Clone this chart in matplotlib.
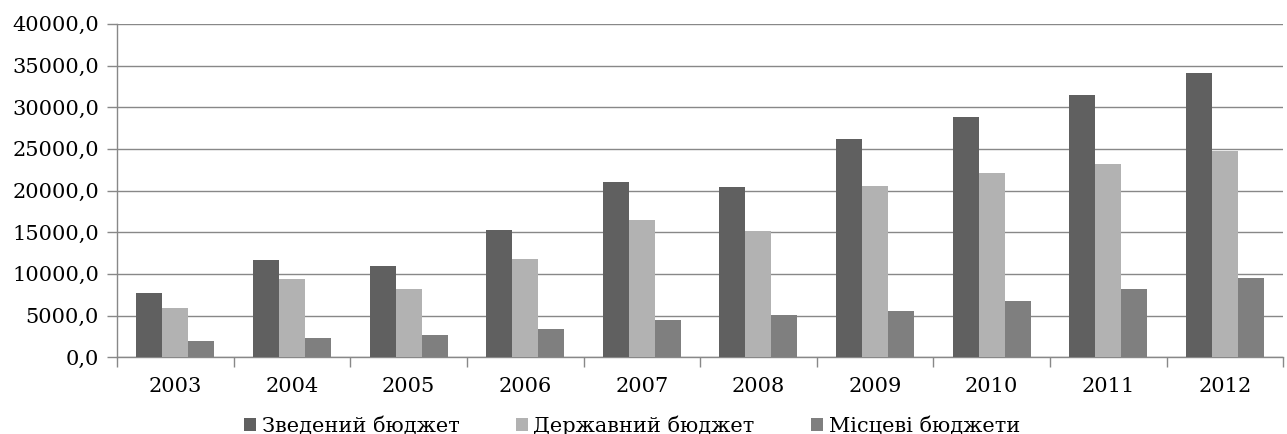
import matplotlib.pyplot as plt
import numpy as np

years = ["2003", "2004", "2005", "2006", "2007", "2008", "2009", "2010", "2011", "2012"]
zvedenyi = [7700, 11700, 11000, 15300, 21000, 20400, 26200, 28800, 31500, 34100]
derzhavnyi = [5900, 9400, 8200, 11800, 16500, 15200, 20600, 22100, 23200, 24700]
mistsevi = [1900, 2300, 2700, 3400, 4500, 5100, 5600, 6700, 8200, 9500]
series_names = ["Зведений бюджет", "Державний бюджет", "Місцеві бюджети"]
colors = ["#606060", "#b2b2b2", "#7f7f7f"]

plt.rcParams["font.family"] = ["DejaVu Serif"]
fig = plt.figure(figsize=(12.87, 4.34), dpi=100)
ax = fig.add_axes([0.091, 0.177, 0.906, 0.768])

x = np.arange(len(years))
w = 0.223
for i, vals in enumerate([zvedenyi, derzhavnyi, mistsevi]):
    ax.bar(x + (i - 1) * w, vals, width=w, color=colors[i], label=series_names[i], zorder=3)

ax.set_xlim(-0.5, len(years) - 0.5)
ax.set_ylim(0, 40000)
ax.set_yticks(np.arange(0, 40001, 5000))
ax.set_yticklabels([f"{v:.1f}".replace(".", ",") for v in range(0, 40001, 5000)], fontsize=15)
ax.set_xticks(x)
ax.set_xticklabels(years, fontsize=15)
ax.set_xticks(np.arange(-0.5, len(years)), minor=True)
ax.tick_params(axis="x", which="major", length=0, pad=14)
ax.tick_params(axis="x", which="minor", length=7, color="#888888", width=1)
ax.tick_params(axis="y", length=7, color="#888888", width=1, pad=6)
ax.grid(axis="y", color="#888888", linewidth=1, zorder=0)
for s in ["top", "right"]:
    ax.spines[s].set_visible(False)
for s in ["left", "bottom"]:
    ax.spines[s].set_color("#888888")
    ax.spines[s].set_linewidth(1)

fig.legend(loc="lower center", bbox_to_anchor=(0.491, -0.005), bbox_transform=fig.transFigure,
           ncol=3, frameon=False, fontsize=15, handlelength=0.6, handleheight=0.6,
           handletextpad=0.25, columnspacing=2.7, borderpad=0, borderaxespad=0)

fig.savefig("out.png", dpi=100)
